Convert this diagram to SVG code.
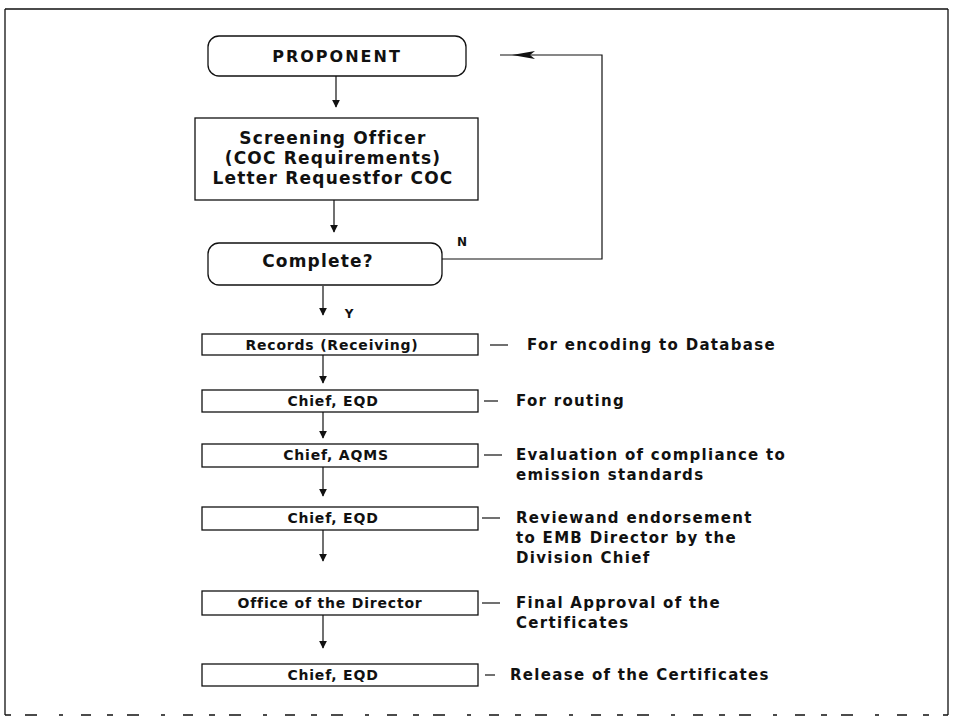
<svg xmlns="http://www.w3.org/2000/svg" width="953" height="725" viewBox="0 0 953 725">
  <defs>
    <marker id="arrow" viewBox="0 0 10 10" refX="9" refY="5" markerWidth="8" markerHeight="8" markerUnits="userSpaceOnUse" orient="auto">
      <path d="M0,0 L10,5 L0,10 Z" fill="#111"/>
    </marker>
  </defs>
  <style>
    .frame { fill: none; stroke: #111; stroke-width: 1.3; }
    .box { fill: #fff; stroke: #111; stroke-width: 1.3; }
    .line { fill: none; stroke: #111; stroke-width: 1.2; }
    .flow { fill: none; stroke: #111; stroke-width: 1.2; marker-end: url(#arrow); }
    .t { font-family: "DejaVu Sans", "Liberation Sans", sans-serif; font-weight: bold; fill: #111; }
    .box-text { font-size: 14px; letter-spacing: 0.8px; text-anchor: middle; dominant-baseline: central; }
    .title-text { font-size: 16px; letter-spacing: 2px; text-anchor: middle; dominant-baseline: central; }
    .big-text { font-size: 17px; letter-spacing: 1.2px; text-anchor: middle; dominant-baseline: central; }
    .label { font-size: 12px; text-anchor: middle; dominant-baseline: central; }
    .note { font-size: 15px; letter-spacing: 1.3px; dominant-baseline: central; }
  </style>

  <!-- page frame -->
  <path class="frame" d="M5,9 H948 M5,9 V715 M948,9 V715"/>
  <path class="frame" d="M5,715 H948" stroke-dasharray="6 14 12 22 4 18 10 16"/>

  <!-- connectors -->
  <g id="connectors">
    <line class="flow" x1="336" y1="76" x2="336" y2="107"/>
    <line class="flow" x1="334" y1="200" x2="334" y2="232"/>
    <line class="flow" x1="323" y1="286" x2="323" y2="315"/>
    <line class="flow" x1="323" y1="355" x2="323" y2="383"/>
    <line class="flow" x1="323" y1="412" x2="323" y2="438"/>
    <line class="flow" x1="323" y1="467" x2="323" y2="496"/>
    <line class="flow" x1="323" y1="530" x2="323" y2="561"/>
    <line class="flow" x1="323" y1="615" x2="323" y2="648"/>
    <!-- "N" branch loops back to the proponent -->
    <path class="line" d="M442,259 H602 V55 H500"/>
    <path d="M512,55 L535,51 L530,55 L535,59 Z" fill="#111"/>
    <text class="t label" x="462" y="242">N</text>
    <text class="t label" x="349" y="314">Y</text>
    <!-- remark leaders -->
    <line class="line" x1="490" y1="345" x2="508" y2="345"/>
    <line class="line" x1="484" y1="401" x2="498" y2="401"/>
    <line class="line" x1="484" y1="455" x2="502" y2="455"/>
    <line class="line" x1="482" y1="518" x2="500" y2="518"/>
    <line class="line" x1="482" y1="603" x2="500" y2="603"/>
    <line class="line" x1="485" y1="675" x2="495" y2="675"/>
  </g>

  <g id="proponent">
    <rect class="box" x="208" y="36" width="258" height="40" rx="11"/>
    <text class="t title-text" x="337" y="56">PROPONENT</text>
  </g>

  <g id="screening">
    <rect class="box" x="195" y="118" width="283" height="82"/>
    <text class="t big-text" x="333" y="138">Screening Officer</text>
    <text class="t big-text" x="333" y="158">(COC Requirements)</text>
    <text class="t big-text" x="333" y="178">Letter Requestfor COC</text>
  </g>

  <g id="complete">
    <rect class="box" x="208" y="243" width="234" height="42" rx="11"/>
    <text class="t big-text" x="318" y="261">Complete?</text>
  </g>

  <g id="records">
    <rect class="box" x="202" y="334" width="276" height="21"/>
    <text class="t box-text" x="332" y="345">Records (Receiving)</text>
    <text class="t note" x="527" y="345">For encoding to Database</text>
  </g>

  <g id="chief-eqd-1">
    <rect class="box" x="202" y="390" width="276" height="22"/>
    <text class="t box-text" x="333" y="401">Chief, EQD</text>
    <text class="t note" x="516" y="401">For routing</text>
  </g>

  <g id="chief-aqms">
    <rect class="box" x="202" y="444" width="276" height="23"/>
    <text class="t box-text" x="336" y="455">Chief, AQMS</text>
    <text class="t note" x="516" y="455">Evaluation of compliance to</text>
    <text class="t note" x="516" y="475">emission standards</text>
  </g>

  <g id="chief-eqd-2">
    <rect class="box" x="202" y="507" width="276" height="23"/>
    <text class="t box-text" x="333" y="518">Chief, EQD</text>
    <text class="t note" x="516" y="518">Reviewand endorsement</text>
    <text class="t note" x="516" y="538">to EMB Director by the</text>
    <text class="t note" x="516" y="558">Division Chief</text>
  </g>

  <g id="director">
    <rect class="box" x="202" y="591" width="276" height="24"/>
    <text class="t box-text" x="330" y="603">Office of the Director</text>
    <text class="t note" x="516" y="603">Final Approval of the</text>
    <text class="t note" x="516" y="623">Certificates</text>
  </g>

  <g id="chief-eqd-3">
    <rect class="box" x="202" y="664" width="276" height="22"/>
    <text class="t box-text" x="333" y="675">Chief, EQD</text>
    <text class="t note" x="510" y="675">Release of the Certificates</text>
  </g>
</svg>
